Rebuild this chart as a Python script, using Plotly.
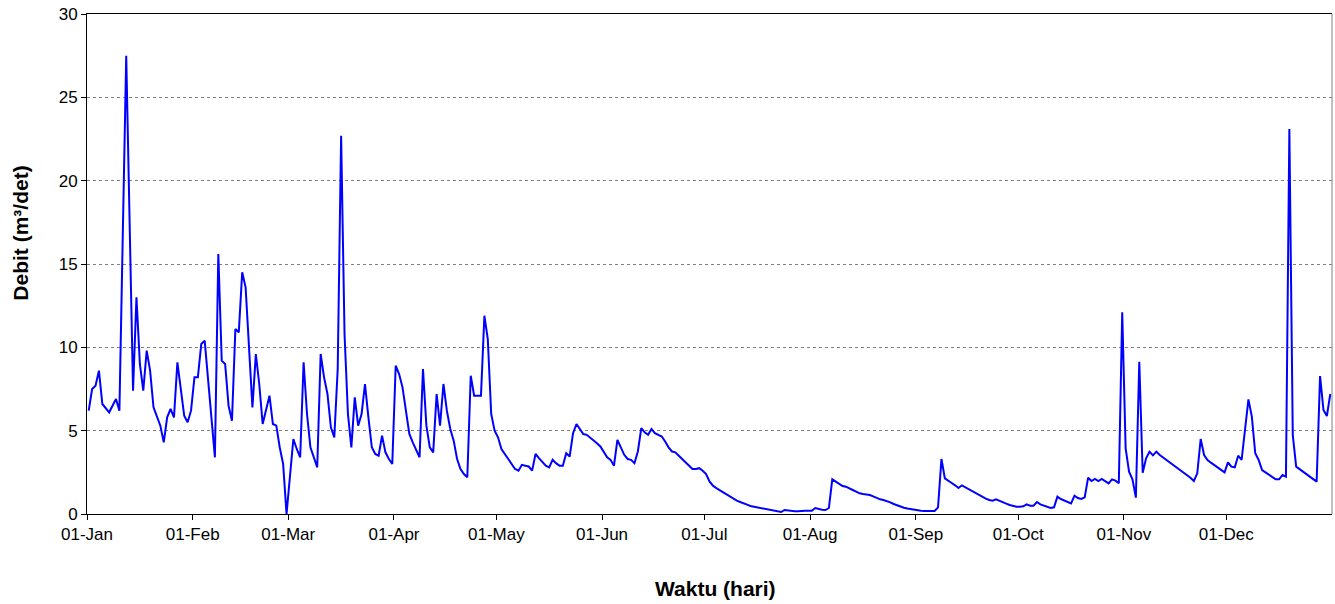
import pandas as pd
import plotly.graph_objects as go

# Day-of-year index (0 = 01-Jan) of each plotted observation and the discharge value
day_index = [
    0, 1, 2, 3, 4, 6, 8, 9, 11, 13, 14, 15, 16, 17, 18, 19, 21, 22, 23, 24, 25, 26, 28, 29, 30,
    31, 32, 33, 34, 37, 38, 39, 40, 41, 42, 43, 44, 45, 46, 47, 48, 49, 50, 51, 53, 54, 55, 56, 57, 58,
    60, 61, 62, 63, 64, 65, 67, 68, 69, 70, 71, 72, 73, 74, 75, 76, 77, 78, 79, 80, 81, 82, 83, 84, 85,
    86, 87, 88, 89, 90, 91, 92, 94, 95, 96, 97, 98, 99, 100, 101, 102, 103, 104, 105, 106, 107, 108,
    109, 110, 111, 112, 113, 114, 115, 116, 117, 118, 119, 120, 121, 123, 124, 125, 126, 127, 128,
    129, 130, 131, 132, 133, 134, 135, 136, 137, 138, 139, 140, 141, 142, 143, 144, 145, 146, 147,
    148, 149, 150, 151, 152, 153, 154, 155, 156, 157, 158, 159, 160, 161, 162, 163, 164, 165, 166,
    167, 168, 169, 170, 171, 172, 173, 174, 175, 176, 177, 178, 179, 180, 181, 182, 183, 184, 185,
    186, 187, 188, 189, 190, 191, 192, 193, 194, 195, 196, 197, 198, 199, 200, 201, 202, 203, 204,
    205, 206, 207, 208, 209, 210, 211, 212, 213, 214, 215, 216, 217, 218, 219, 220, 221, 222, 223,
    224, 225, 226, 227, 228, 229, 230, 231, 232, 233, 234, 235, 236, 237, 238, 239, 240, 241, 242,
    243, 244, 245, 246, 247, 248, 249, 250, 251, 252, 253, 254, 255, 256, 257, 258, 259, 260, 261,
    262, 263, 264, 265, 266, 267, 268, 269, 270, 271, 272, 273, 274, 275, 276, 277, 278, 279, 280,
    281, 282, 283, 284, 285, 286, 287, 288, 289, 290, 291, 292, 293, 294, 295, 296, 297, 298, 299,
    300, 301, 302, 303, 304, 305, 306, 307, 308, 309, 310, 311, 312, 313, 314, 322, 323, 324, 325,
    326, 327, 328, 329, 333, 334, 335, 336, 337, 338, 340, 341, 342, 343, 344, 348, 349, 350, 351,
    352, 353, 354, 360, 361, 362, 363, 364,
]
debit = [
    6.2, 7.5, 7.7, 8.6, 6.6, 6.1, 6.9, 6.2, 27.5, 7.4, 13.0, 9.0, 7.4, 9.8, 8.6, 6.4, 5.3, 4.3, 5.8, 6.3, 5.8, 9.1, 5.9, 5.5, 6.2,
    8.2, 8.2, 10.2, 10.4, 3.4, 15.6, 9.2, 9.0, 6.5, 5.6, 11.1, 10.9, 14.5, 13.6, 9.6, 6.4, 9.6, 7.8, 5.4, 7.1, 5.4, 5.3, 4.0, 3.0, 0.0,
    4.5, 3.9, 3.4, 9.1, 6.0, 4.0, 2.8, 9.6, 8.2, 7.2, 5.2, 4.6, 8.7, 22.7, 10.8, 6.0, 4.0, 7.0, 5.3, 6.0, 7.8, 5.8, 4.0, 3.6, 3.5,
    4.7, 3.7, 3.3, 3.0, 8.9, 8.4, 7.6, 4.8, 4.3, 3.8, 3.4, 8.7, 5.3, 4.0, 3.7, 7.2, 5.3, 7.8, 6.2, 5.1, 4.4, 3.3,
    2.7, 2.4, 2.2, 8.3, 7.1, 7.1, 7.1, 11.9, 10.5, 6.0, 5.0, 4.6, 3.9, 3.3, 3.0, 2.7, 2.6, 2.95, 2.9,
    2.85, 2.6, 3.6, 3.35, 3.1, 2.9, 2.8, 3.25, 3.05, 2.9, 2.9, 3.65, 3.45, 4.85, 5.4, 5.1, 4.8, 4.75, 4.6,
    4.4, 4.25, 4.05, 3.7, 3.4, 3.25, 2.9, 4.45, 3.95, 3.55, 3.3, 3.25, 3.05, 3.75, 5.15, 4.9, 4.75, 5.1, 4.85,
    4.75, 4.65, 4.35, 4.0, 3.75, 3.7, 3.5, 3.3, 3.1, 2.9, 2.7, 2.7, 2.75, 2.6, 2.4, 1.95, 1.7, 1.55, 1.42,
    1.32, 1.2, 1.04, 0.9, 0.8, 0.72, 0.62, 0.56, 0.48, 0.44, 0.4, 0.34, 0.28, 0.24, 0.2, 0.16, 0.12, 0.12, 0.24,
    0.2, 0.18, 0.16, 0.16, 0.2, 0.2, 0.2, 0.2, 0.36, 0.3, 0.26, 0.24, 0.36, 2.08, 1.94, 1.8, 1.68, 1.64, 1.56,
    1.44, 1.34, 1.24, 1.2, 1.18, 1.14, 1.06, 0.96, 0.88, 0.84, 0.78, 0.7, 0.6, 0.52, 0.44, 0.38, 0.33, 0.29, 0.26,
    0.22, 0.2, 0.18, 0.18, 0.18, 0.18, 0.4, 3.3, 2.14, 1.98, 1.86, 1.72, 1.56, 1.72, 1.6, 1.48, 1.36, 1.24, 1.12,
    1.02, 0.92, 0.84, 0.8, 0.88, 0.78, 0.7, 0.62, 0.54, 0.48, 0.44, 0.44, 0.46, 0.58, 0.5, 0.5, 0.72, 0.58, 0.5,
    0.44, 0.36, 0.4, 1.04, 0.9, 0.8, 0.72, 0.64, 1.1, 0.96, 0.9, 1.0, 2.18, 1.98, 2.1, 1.98, 2.1, 1.98, 1.84,
    2.08, 2.0, 1.84, 12.1, 3.94, 2.54, 2.08, 0.98, 9.14, 2.48, 3.34, 3.74, 3.52, 3.74, 3.54, 2.34, 2.18, 1.98, 2.44,
    4.5, 3.54, 3.24, 3.08, 2.5, 3.1, 2.84, 2.8, 3.5, 3.24, 6.88, 5.84, 3.64, 3.24, 2.64, 2.08, 2.08, 2.34, 2.24,
    23.1, 4.74, 2.84, 1.94, 8.28, 6.24, 5.88, 7.2,
]

year_start = "2001-01-01"
month_ticks = ["2001-%02d-01" % m for m in range(1, 13)]
month_labels = ["01-Jan", "01-Feb", "01-Mar", "01-Apr", "01-May", "01-Jun",
                "01-Jul", "01-Aug", "01-Sep", "01-Oct", "01-Nov", "01-Dec"]
y_ticks = [0, 5, 10, 15, 20, 25, 30]

# each daily value is centred in its day slot (as on a date axis)
dates = pd.Timestamp(year_start) + pd.to_timedelta(day_index, unit="D") + pd.Timedelta(hours=12)

font_family = "Liberation Sans, Arial, sans-serif"

fig = go.Figure()
fig.add_trace(go.Scatter(
    x=dates, y=debit, mode="lines",
    line=dict(color="#0000FF", width=2),
    showlegend=False, hoverinfo="skip",
))

fig.update_layout(
    width=1335, height=604,
    margin=dict(l=87, r=3, t=14, b=90, autoexpand=False),
    paper_bgcolor="white", plot_bgcolor="white",
    font=dict(family=font_family, size=17, color="black"),
    hovermode=False,
    xaxis=dict(
        type="date",
        range=["2001-01-01", "2002-01-01"],
        tickmode="array", tickvals=month_ticks, ticktext=month_labels,
        showgrid=False, zeroline=False,
        showline=True, linecolor="black", linewidth=1, mirror=True,
        ticks="outside", ticklen=5, tickcolor="black",
        tickfont=dict(size=17, family=font_family),
        automargin=False,
    ),
    yaxis=dict(
        range=[0, 30],
        tickmode="array", tickvals=y_ticks,
        showgrid=True, gridcolor="#808080", griddash="dot", gridwidth=1,
        zeroline=False,
        showline=True, linecolor="black", linewidth=1,
        ticks="outside", ticklen=5, tickcolor="black",
        tickfont=dict(size=17, family=font_family),
        ticklabeloverflow="allow",
        automargin=False,
    ),
    shapes=[dict(type="line", xref="paper", yref="paper", x0=1, x1=1, y0=0, y1=1,
                 line=dict(color="#808080", width=1))],
    annotations=[
        dict(text="<b>Waktu (hari)</b>", xref="paper", yref="paper",
             x=0.505, y=-0.148, xanchor="center", yanchor="middle", showarrow=False,
             font=dict(size=21, family=font_family, color="black")),
        dict(text="<b>Debit (m³/det)</b>", xref="paper", yref="paper",
             x=-0.0533, y=0.562, xanchor="center", yanchor="middle", showarrow=False,
             textangle=-90,
             font=dict(size=21, family=font_family, color="black")),
    ],
)

# remove the default page margin so the figure fills the window exactly
fig.write_html(
    "out.html",
    config={"displayModeBar": False},
    post_script="document.body.style.margin='0';document.body.style.overflow='hidden';",
)
